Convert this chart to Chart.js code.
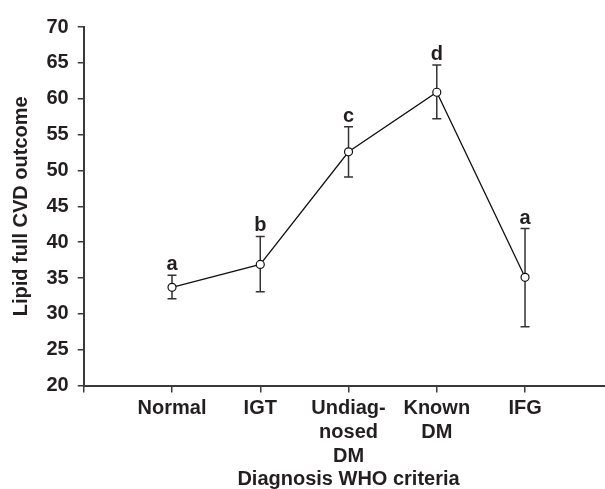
<!DOCTYPE html>
<html>
<head>
<meta charset="utf-8">
<script src="https://cdn.jsdelivr.net/npm/chart.js@4/dist/chart.umd.min.js"></script>
<style>
  html, body { margin: 0; padding: 0; background: #fff; overflow: hidden; }
  #wrap { width: 620px; height: 489px; }
</style>
</head>
<body>
<div id="wrap"><canvas id="chart"></canvas></div>
<script>
const categories = ['Normal', 'IGT', ['Undiag-', 'nosed', 'DM'], ['Known', 'DM'], 'IFG'];
const means = [33.7, 36.9, 52.6, 60.9, 35.1];
const errLow = [32.1, 33.1, 49.1, 57.2, 28.2];
const errHigh = [35.4, 40.8, 56.1, 64.7, 41.9];
const letters = ['a', 'b', 'c', 'd', 'a'];
const yTicks = [20, 25, 30, 35, 40, 45, 50, 55, 60, 65, 70];

const textColor = '#231f20';
const axisColor = '#3a3a3a';
const fontFamily = "'Liberation Sans', Arial, Helvetica, sans-serif";

const errorBars = {
  id: 'errorBars',
  beforeDatasetsDraw(chart) {
    const { ctx, scales: { x, y } } = chart;
    ctx.save();
    ctx.strokeStyle = '#333';
    ctx.lineWidth = 1.5;
    means.forEach((m, i) => {
      const px = x.getPixelForValue(i + 1);
      const top = y.getPixelForValue(errHigh[i]);
      const bot = y.getPixelForValue(errLow[i]);
      ctx.beginPath();
      ctx.moveTo(px, top); ctx.lineTo(px, bot);
      ctx.moveTo(px - 4.5, top); ctx.lineTo(px + 4.5, top);
      ctx.moveTo(px - 4.5, bot); ctx.lineTo(px + 4.5, bot);
      ctx.stroke();
    });
    ctx.restore();
  },
  afterDatasetsDraw(chart) {
    const { ctx, scales: { x, y } } = chart;
    ctx.save();
    ctx.fillStyle = textColor;
    ctx.font = 'bold 20px ' + fontFamily;
    ctx.textAlign = 'center';
    ctx.textBaseline = 'alphabetic';
    letters.forEach((l, i) => {
      ctx.fillText(l, x.getPixelForValue(i + 1), y.getPixelForValue(errHigh[i]) - 5);
    });
    ctx.restore();
  }
};

new Chart(document.getElementById('chart'), {
  type: 'line',
  data: {
    datasets: [{
      data: means.map((v, i) => ({ x: i + 1, y: v })),
      borderColor: '#111',
      borderWidth: 1.3,
      pointRadius: 4,
      pointBackgroundColor: '#fff',
      pointBorderColor: '#111',
      pointBorderWidth: 1.2,
      tension: 0
    }]
  },
  options: {
    responsive: true,
    maintainAspectRatio: false,
    animation: false,
    layout: { padding: { left: 9, right: 6.7, top: 27, bottom: 0 } },
    plugins: { legend: { display: false }, tooltip: { enabled: false } },
    scales: {
      x: {
        type: 'linear',
        min: 0,
        max: 6,
        border: { display: true, color: axisColor, width: 2 },
        grid: { drawOnChartArea: false, drawTicks: true, tickLength: 7, color: axisColor, lineWidth: 1.5 },
        ticks: {
          stepSize: 1,
          padding: 4,
          maxRotation: 0,
          autoSkip: false,
          color: textColor,
          font: { family: fontFamily, size: 20, weight: 'bold', lineHeight: 1.19 },
          callback: v => categories[v - 1] || ''
        },
        title: {
          display: true,
          text: 'Diagnosis WHO criteria',
          color: textColor,
          padding: { top: -3, bottom: 0 },
          font: { family: fontFamily, size: 20, weight: 'bold', lineHeight: 1 }
        }
      },
      y: {
        min: 20,
        max: 70,
        afterBuildTicks: axis => { axis.ticks = yTicks.map(v => ({ value: v })); },
        border: { display: true, color: axisColor, width: 2 },
        grid: { drawOnChartArea: false, drawTicks: true, tickLength: 6, color: axisColor, lineWidth: 1.5 },
        ticks: {
          padding: 9,
          color: textColor,
          font: { family: fontFamily, size: 20, weight: 'bold' }
        },
        title: {
          display: true,
          text: 'Lipid full CVD outcome',
          color: textColor,
          padding: { top: 0, bottom: 4.5 },
          font: { family: fontFamily, size: 20, weight: 'bold', lineHeight: 1.2 }
        }
      }
    }
  },
  plugins: [errorBars]
});
</script>
</body>
</html>
